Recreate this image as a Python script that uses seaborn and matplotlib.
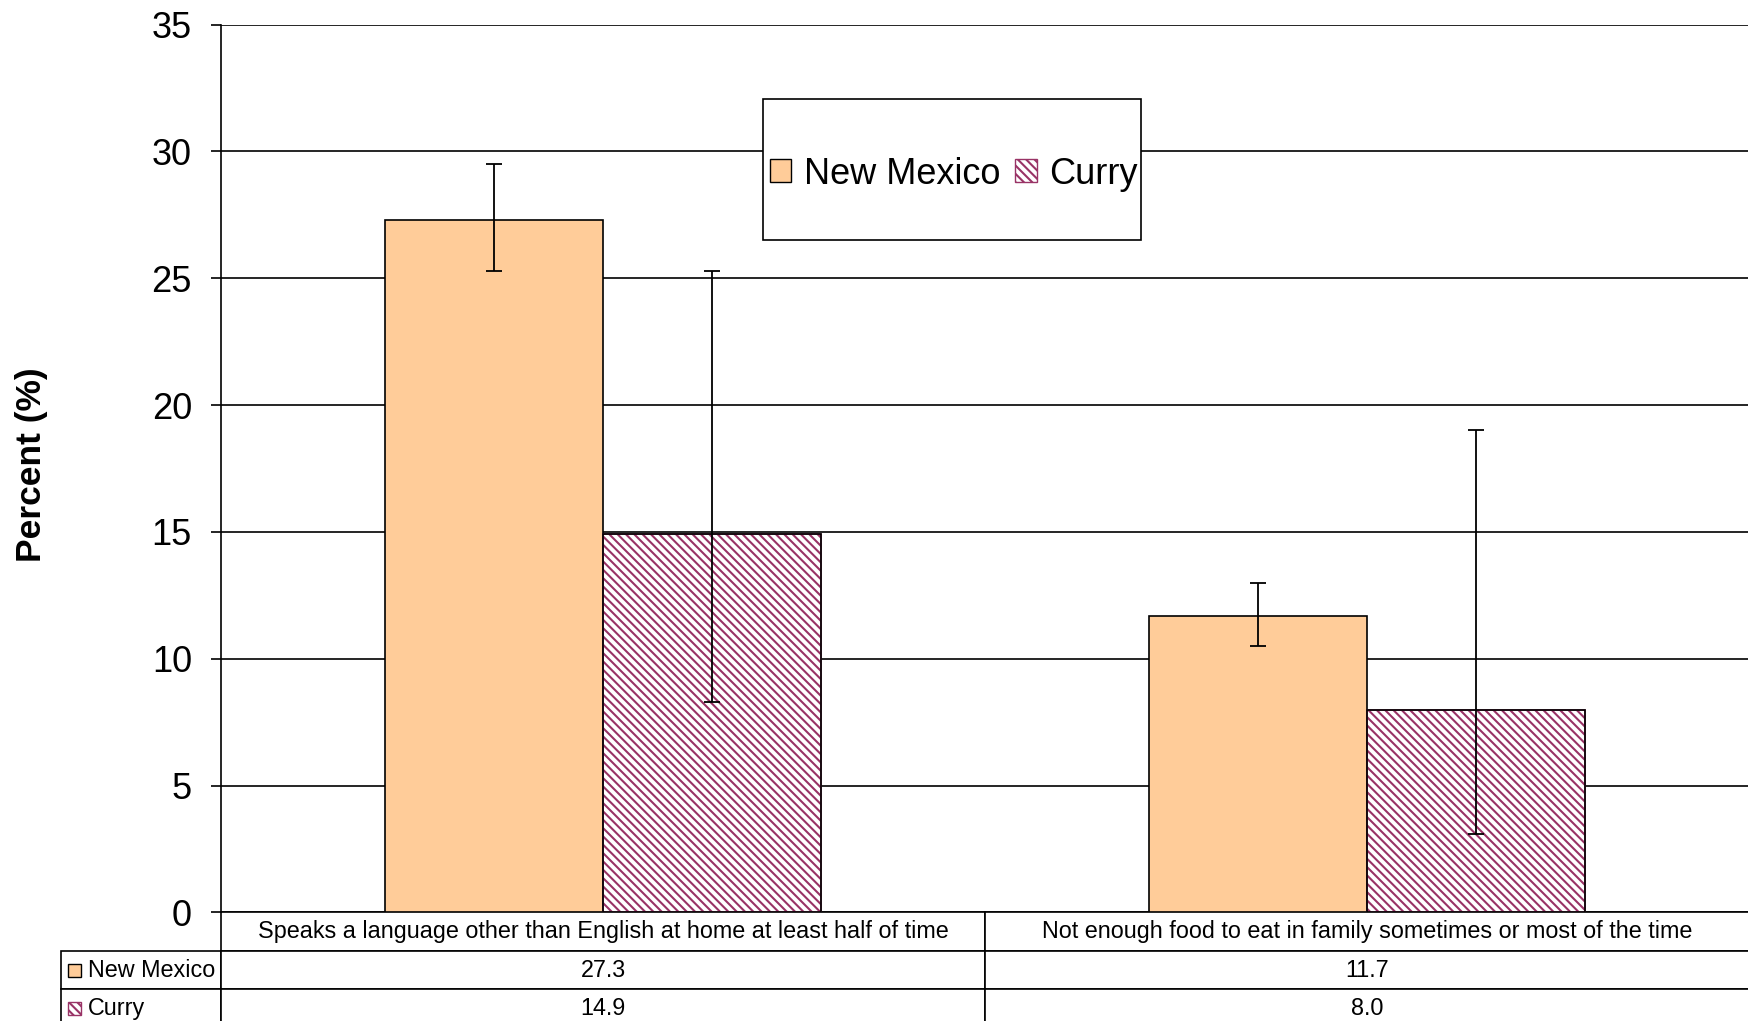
import pandas as pd
import matplotlib.pyplot as plt
import seaborn as sns
from matplotlib.patches import Patch, Rectangle

# data
categories = ['Speaks a language other than English at home at least half of time',
              'Not enough food to eat in family sometimes or most of the time']
regions = ['New Mexico', 'Curry']
nm_values = [27.3, 11.7]
curry_values = [14.9, 8.0]
nm_low = [25.3, 10.5]
nm_high = [29.5, 13.0]
curry_low = [8.3, 3.1]
curry_high = [25.3, 19.0]

orange = '#FFCC99'
plum = '#993366'
hatch = '\\\\\\\\'

sns.set_style('white')
plt.rcParams['font.family'] = ['Liberation Sans', 'DejaVu Sans']
plt.rcParams['hatch.linewidth'] = 1.5

df = pd.DataFrame({
    'Category': categories * 2,
    'Region': ['New Mexico'] * 2 + ['Curry'] * 2,
    'Percent': nm_values + curry_values,
})

fig = plt.figure(figsize=(17.49, 10.21), dpi=100)
ax = fig.add_axes([0.1264, 0.1063, 0.8736, 0.8697])

sns.barplot(data=df, x='Category', y='Percent', hue='Region', hue_order=regions,
            order=categories, palette={'New Mexico': orange, 'Curry': 'white'},
            saturation=1, width=0.57, edgecolor='black', linewidth=1.2,
            errorbar=None, legend=False, ax=ax)

bars = ax.patches[:4]
lows = nm_low + curry_low
highs = nm_high + curry_high
for i, p in enumerate(bars):
    p.set_zorder(3)
    if i >= 2:
        p.set_hatch(hatch)
        if hasattr(p, 'set_hatchcolor'):
            p.set_hatchcolor(plum)
        else:
            p.set_edgecolor(plum)
            ax.add_patch(Rectangle(p.get_xy(), p.get_width(), p.get_height(),
                                   fill=False, edgecolor='black', lw=1.2, zorder=3.5))
    x = p.get_x() + p.get_width() / 2
    v = p.get_height()
    ax.errorbar([x], [v], yerr=[[v - lows[i]], [highs[i] - v]], fmt='none',
                ecolor='black', elinewidth=1.3, capsize=6, capthick=1.3, zorder=4)

ax.set_ylim(0, 35)
ax.set_yticks(range(0, 36, 5))
ax.set_xlim(-0.5, 1.5)
ax.set_xticks([])
ax.set_xlabel('')
ax.yaxis.grid(True, color='black', linewidth=1.2)
ax.set_axisbelow(True)
for s in ['top', 'right', 'bottom']:
    ax.spines[s].set_visible(False)
ax.spines['left'].set_color('black')
ax.spines['left'].set_linewidth(1.2)
ax.tick_params(axis='y', left=True, length=7, width=1.2, color='black',
               labelsize=26, labelcolor='black', pad=14)

ax.set_ylabel('Percent (%)', fontsize=25.5, fontweight='bold', color='black')
ax.yaxis.set_label_coords(-0.113, 0.504)

# legend box
ax.add_patch(Rectangle((0.355, 0.757), 0.247, 0.159, transform=ax.transAxes,
                       facecolor='white', edgecolor='black', lw=1.2, zorder=6))
handles = [Patch(facecolor=orange, edgecolor='black', label='New Mexico'),
           Patch(facecolor='white', edgecolor=plum, hatch=hatch, label='Curry')]
leg = ax.legend(handles=handles, loc='center', bbox_to_anchor=(0.4795, 0.8315),
                ncol=2, fontsize=26, frameon=False, borderpad=0.2,
                handlelength=0.6, handleheight=0.6, handletextpad=0.35,
                columnspacing=0.4, labelcolor='black')
leg.set_zorder(7)

# data table under the axes
cell_text = [['New Mexico'] + [f'{v:.1f}' for v in nm_values],
             ['Curry'] + [f'{v:.1f}' for v in curry_values]]
lw = 0.1047
tbl = ax.table(cellText=cell_text, colLabels=[''] + categories,
               colWidths=[lw, 0.5, 0.5], cellLoc='center',
               bbox=[-lw, -0.13, 1 + lw, 0.13])
tbl.auto_set_font_size(False)
for (r, c), cell in tbl.get_celld().items():
    cell.set_linewidth(1.2)
    cell.set_edgecolor('black')
    cell.get_text().set_fontsize(16.8)
    cell.get_text().set_color('black')
    if r == 0 and c == 0:
        cell.visible_edges = ''
    elif c == 0:
        cell._loc = 'left'
        cell.PAD = 0.17
        cell.get_text().set_ha('left')

for row_y, face, edge, h in [(-0.065, orange, 'black', None),
                             (-0.108, 'white', plum, hatch)]:
    ax.add_patch(Rectangle((-0.1005, row_y - 0.0073), 0.0085, 0.0146,
                           transform=ax.transAxes, clip_on=False,
                           facecolor=face, edgecolor=edge, hatch=h, lw=1))

fig.savefig('out.png', dpi=100)
